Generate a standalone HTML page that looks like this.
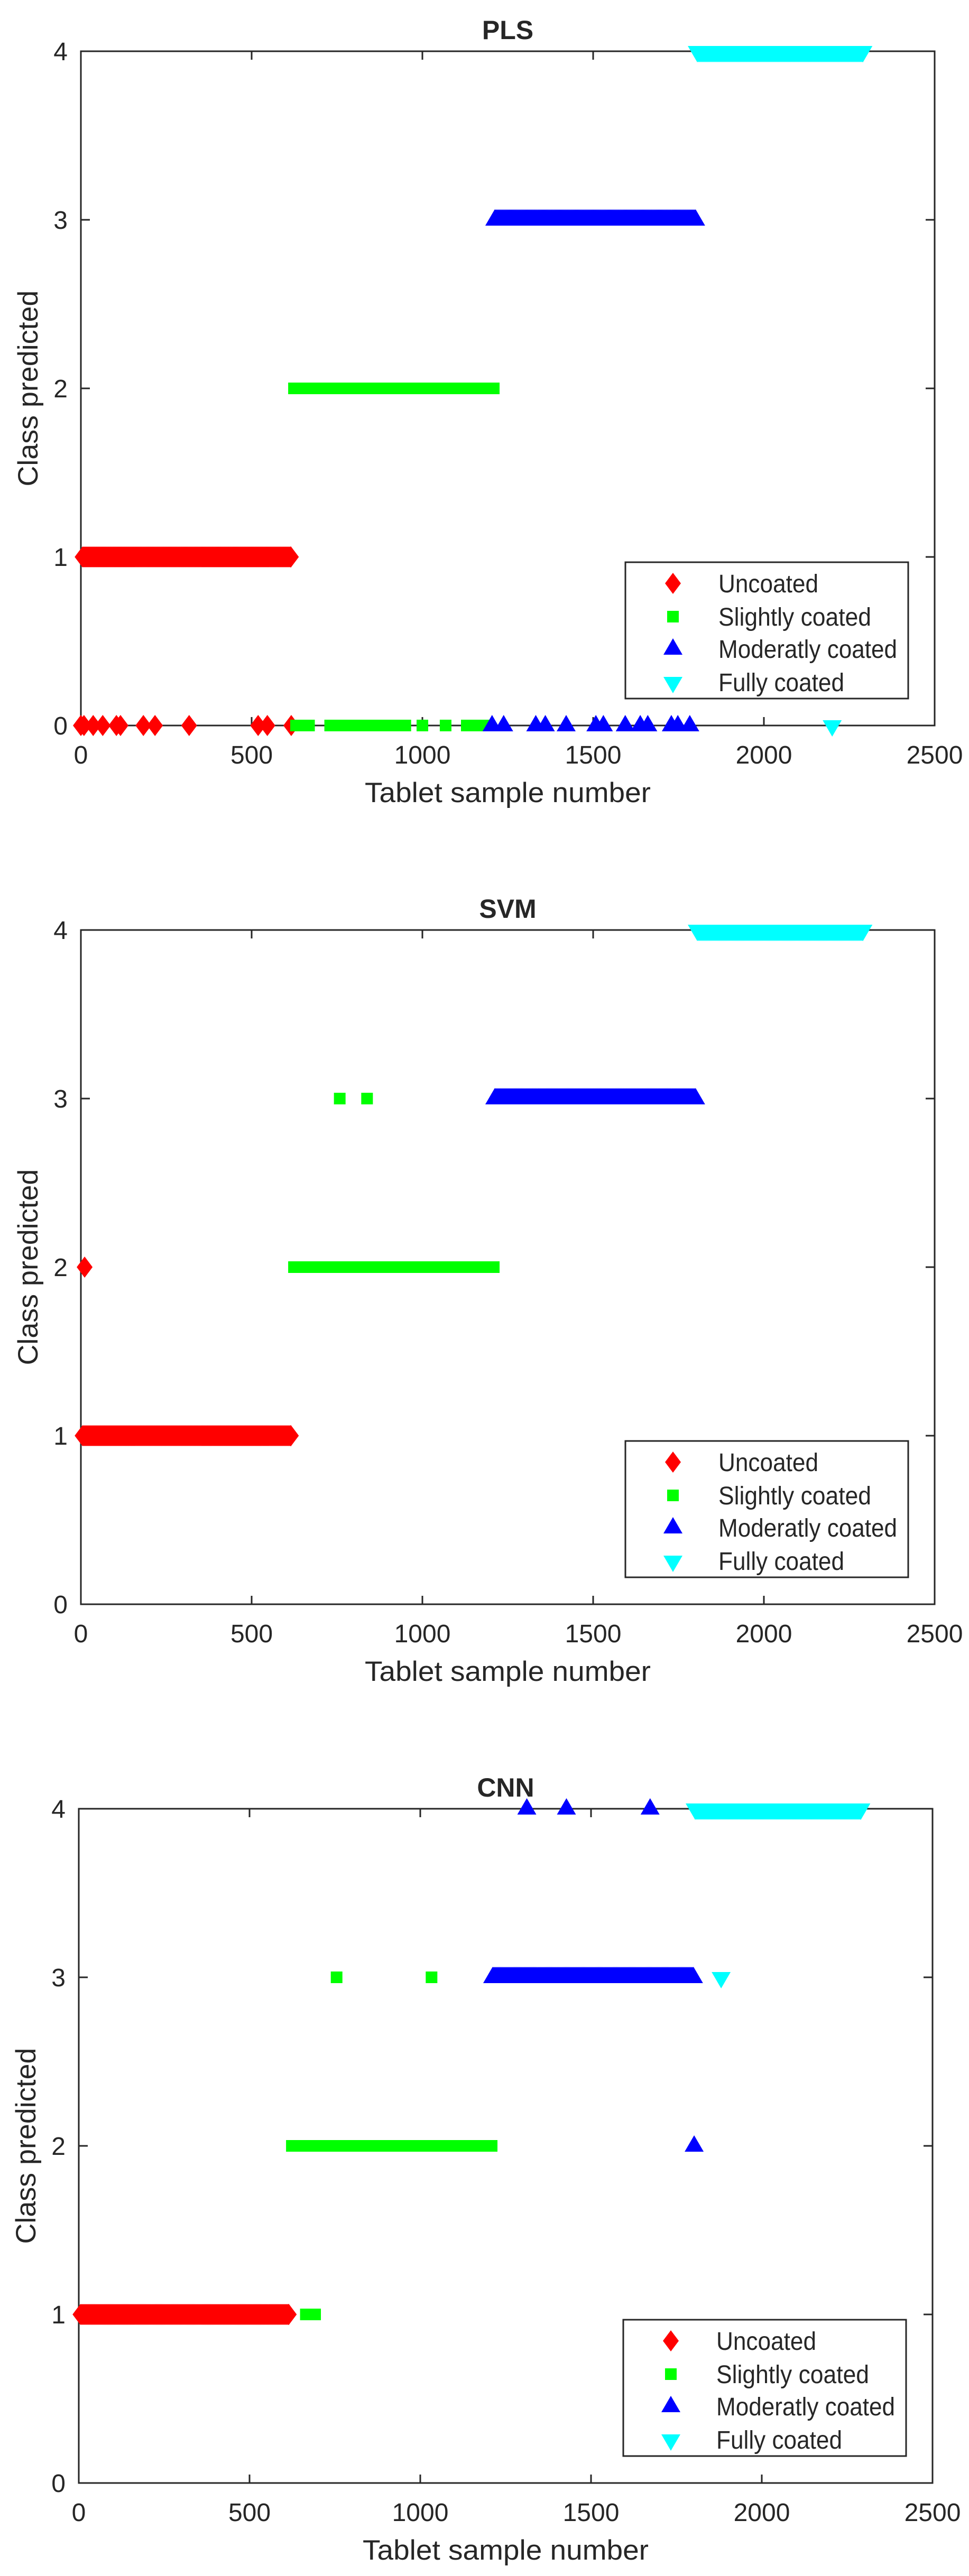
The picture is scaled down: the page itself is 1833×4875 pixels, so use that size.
<!DOCTYPE html>
<html><head><meta charset="utf-8">
<style>
html,body{margin:0;padding:0;background:#fff;}
svg{display:block;}
text{font-family:"Liberation Sans",Arial,sans-serif;fill:#262626;}
</style></head>
<body>
<svg id="fig" width="1833" height="4875" viewBox="0 0 1833 4875" xmlns="http://www.w3.org/2000/svg"></svg>
<script>
// ---- data ----
const xTicks = [0, 500, 1000, 1500, 2000, 2500];
const yTicks = [0, 1, 2, 3, 4];
const classNames = ["Uncoated", "Slightly coated", "Moderatly coated", "Fully coated"];
const classColors = ["#ff0000", "#00ff00", "#0000ff", "#00ffff"];
const classShapes = ["diamond", "square", "up", "down"];
// sample ranges (tablet sample numbers) of each true class
const bandStart = [5, 624, 1212, 1805];
const bandEnd = [615, 1209, 1800, 2290];
// predicted class of the main band per method
const plsBandClass = [1, 2, 3, 4];
const svmBandClass = [1, 2, 3, 4];
const cnnBandClass = [1, 2, 3, 4];
// misclassified / outlier samples: [sample, predicted]
const plsUncoatedOut = [[0,0],[9,0],[36,0],[64,0],[104,0],[116,0],[183,0],[217,0],[317,0],[519,0],[546,0],[616,0]];
const plsSlightOut = [[630,0],[650,0],[668,0],[730,0],[750,0],[770,0],[790,0],[810,0],[830,0],[850,0],[870,0],[890,0],[910,0],[930,0],[950,0],[1000,0],[1068,0],[1130,0],[1150,0],[1170,0],[1190,0]];
const plsModerateOut = [[1204,0],[1238,0],[1332,0],[1360,0],[1421,0],[1508,0],[1530,0],[1594,0],[1638,0],[1660,0],[1729,0],[1748,0],[1783,0]];
const plsFullOut = [[2200,0]];
const svmUncoatedOut = [[11,2]];
const svmSlightOut = [[758,3],[838,3]];
const svmModerateOut = [];
const svmFullOut = [];
const cnnUncoatedOut = [];
const cnnSlightOut = [[665,1],[680,1],[692,1],[755,3],[1033,3]];
const cnnModerateOut = [[1312,4],[1428,4],[1673,4],[1802,2]];
const cnnFullOut = [[1881,3]];

const legendTextWidths = [189, 289, 338, 238];

const svg = document.getElementById('fig');
const NS = 'http://www.w3.org/2000/svg';
function mk(tag, attrs, parent){
  const e = document.createElementNS(NS, tag);
  for (const k in attrs) e.setAttribute(k, attrs[k]);
  parent.appendChild(e);
  return e;
}
function markerPath(shape, cx, cy){
  if (shape === 'diamond') return `M${cx},${cy-20}L${cx+15},${cy}L${cx},${cy+20}L${cx-15},${cy}Z`;
  if (shape === 'square') return `M${cx-11},${cy-11}h22v22h-22Z`;
  if (shape === 'up') return `M${cx},${cy-20}L${cx+18},${cy+11}L${cx-18},${cy+11}Z`;
  return `M${cx-18},${cy-10}L${cx+18},${cy-10}L${cx},${cy+21}Z`;
}

function drawPlot(cfg){
  const L = cfg.left, T = cfg.top, W = 1615, H = 1276;
  const sx = v => L + v / 2500 * W;
  const sy = v => T + H - v / 4 * H;
  const g = mk('g', {}, svg);
  
  

  const box = mk('rect', {x:L, y:T, width:W, height:H, fill:'none', stroke:'#262626', 'stroke-width':3}, g);
  
  

  xTicks.forEach(v => {
    const x = sx(v);
    mk('line', {x1:x, y1:T+H, x2:x, y2:T+H-16, stroke:'#262626', 'stroke-width':3}, g);
    mk('line', {x1:x, y1:T, x2:x, y2:T+16, stroke:'#262626', 'stroke-width':3}, g);
    const t = mk('text', {x:x, y:T+H+72, 'font-size':48, 'text-anchor':'middle'}, g);
    t.textContent = v;
    
    
  });
  yTicks.forEach(v => {
    const y = sy(v);
    mk('line', {x1:L, y1:y, x2:L+17, y2:y, stroke:'#262626', 'stroke-width':3}, g);
    mk('line', {x1:L+W, y1:y, x2:L+W-17, y2:y, stroke:'#262626', 'stroke-width':3}, g);
    const t = mk('text', {x:L-25, y:y+17, 'font-size':48, 'text-anchor':'end'}, g);
    t.textContent = v;
    
    
  });

  const title = mk('text', {x:L+W/2, y:T-23, 'font-size':50, 'font-weight':'bold', 'text-anchor':'middle', fill:'#000'}, g);
  title.textContent = cfg.title;
  
  
  const xl = mk('text', {x:L+W/2, y:T+H+145, 'font-size':53, 'text-anchor':'middle', textLength:541, lengthAdjust:'spacingAndGlyphs'}, g);
  xl.textContent = 'Tablet sample number';
  
  
  const yl = mk('text', {x:0, y:0, 'font-size':53, 'text-anchor':'middle', textLength:371, lengthAdjust:'spacingAndGlyphs', transform:`translate(${L-82},${T+H/2}) rotate(-90)`}, g);
  yl.textContent = 'Class predicted';
  
  

  for (let c = 0; c < 4; c++){
    const sg = mk('g', {fill:classColors[c]}, g);
    
    
    let d = '';
    for (let s = bandStart[c]; s <= bandEnd[c]; s += 3){
      d += markerPath(classShapes[c], sx(s), sy(cfg.bandClass[c]));
    }
    d += markerPath(classShapes[c], sx(bandEnd[c]), sy(cfg.bandClass[c]));
    const band = mk('path', {d:d}, sg);
    
    
    cfg.outliers[c].forEach(p => {
      const m = mk('path', {d:markerPath(classShapes[c], sx(p[0]), sy(p[1]))}, sg);
      
      
    });
  }

  const lg = mk('g', {}, g);
  
  
  mk('rect', {x:L+1030, y:T+967, width:535, height:258, fill:'#fff', stroke:'#262626', 'stroke-width':3}, lg);
  const rows = [1007, 1070, 1131, 1194];
  for (let c = 0; c < 4; c++){
    const ey = T + rows[c];
    const m = mk('path', {d:markerPath(classShapes[c], L+1120, ey), fill:classColors[c]}, lg);
    
    
    const t = mk('text', {x:L+1206, y:ey+17, 'font-size':48, fill:'#000', textLength:legendTextWidths[c], lengthAdjust:'spacingAndGlyphs'}, lg);
    t.textContent = classNames[c];
    
    
  }
}

drawPlot({name:'pls', title:'PLS', left:153, top:97, bandClass:plsBandClass,
  outliers:[plsUncoatedOut, plsSlightOut, plsModerateOut, plsFullOut]});
drawPlot({name:'svm', title:'SVM', left:153, top:1760, bandClass:svmBandClass,
  outliers:[svmUncoatedOut, svmSlightOut, svmModerateOut, svmFullOut]});
drawPlot({name:'cnn', title:'CNN', left:149, top:3423, bandClass:cnnBandClass,
  outliers:[cnnUncoatedOut, cnnSlightOut, cnnModerateOut, cnnFullOut]});
</script>
</body></html>
